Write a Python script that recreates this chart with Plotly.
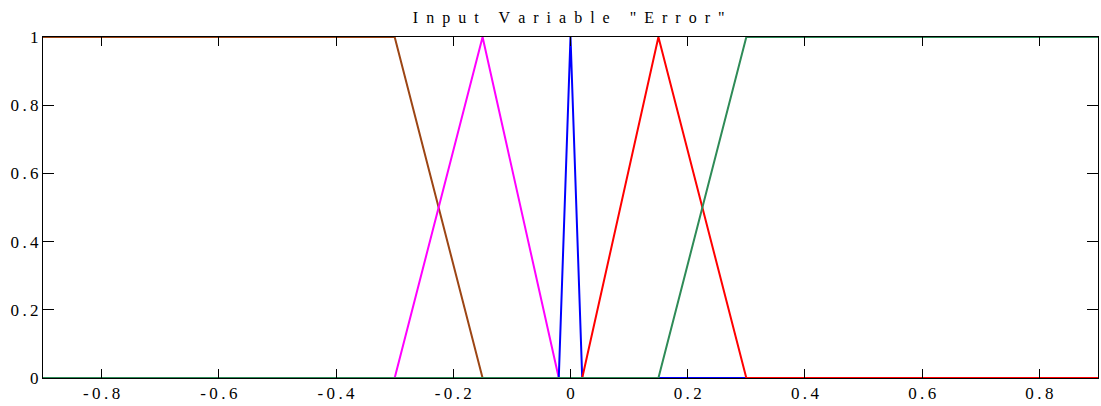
import plotly.graph_objects as go

# Membership functions of input variable "Error" (breakpoints, membership values)
nb_x = [-0.9, -0.3, -0.15, 0.9]
nb_y = [1, 1, 0, 0]
ns_x = [-0.9, -0.3, -0.15, -0.02, 0.9]
ns_y = [0, 0, 1, 0, 0]
ze_x = [-0.9, -0.02, 0.0, 0.02, 0.9]
ze_y = [0, 0, 1, 0, 0]
ps_x = [-0.9, 0.02, 0.15, 0.3, 0.9]
ps_y = [0, 0, 1, 0, 0]
pb_x = [-0.9, 0.15, 0.3, 0.9]
pb_y = [0, 0, 1, 1]

series = [
    (nb_x, nb_y, "#9c4514"),
    (ns_x, ns_y, "#ff00ff"),
    (ze_x, ze_y, "#0000ff"),
    (ps_x, ps_y, "#ff0000"),
    (pb_x, pb_y, "#2e8b57"),
]

x_ticks = [-0.8, -0.6, -0.4, -0.2, 0, 0.2, 0.4, 0.6, 0.8]
y_ticks = [0, 0.2, 0.4, 0.6, 0.8, 1]

def spaced(s):
    return "\u2009".join(s)

x_ticktext = [spaced(f"{v:g}") for v in x_ticks]
y_ticktext = [spaced(f"{v:g}") for v in y_ticks]

title_text = "\u00a0\u00a0".join("Input Variable \"Error\"")

fig = go.Figure()
for xs, ys, col in series:
    fig.add_trace(go.Scatter(x=xs, y=ys, mode="lines",
                             line=dict(color=col, width=2), showlegend=False))

serif = "Liberation Serif"
fig.update_layout(
    width=1101, height=406,
    margin=dict(l=43, r=3, t=37, b=28),
    paper_bgcolor="white", plot_bgcolor="white",
    title=dict(text=title_text,
               x=0.5165, xanchor="center", y=0.958, yanchor="middle",
               font=dict(family=serif, size=16, color="black")),
    font=dict(family=serif, size=17, color="black"),
)
fig.update_xaxes(range=[-0.9, 0.9], tickvals=x_ticks, ticktext=x_ticktext,
                 ticks="inside", ticklen=9, tickcolor="black", tickwidth=1,
                 showline=True, linecolor="black", linewidth=1, mirror="allticks",
                 showgrid=False, zeroline=False,
                 tickfont=dict(family=serif, size=17, color="black"))
fig.update_yaxes(range=[0, 1], tickvals=y_ticks, ticktext=y_ticktext,
                 ticks="inside", ticklen=11, tickcolor="black", tickwidth=1,
                 showline=True, linecolor="black", linewidth=1, mirror="allticks",
                 showgrid=False, zeroline=False,
                 tickfont=dict(family=serif, size=17, color="black"))
fig.write_html("out.html")
